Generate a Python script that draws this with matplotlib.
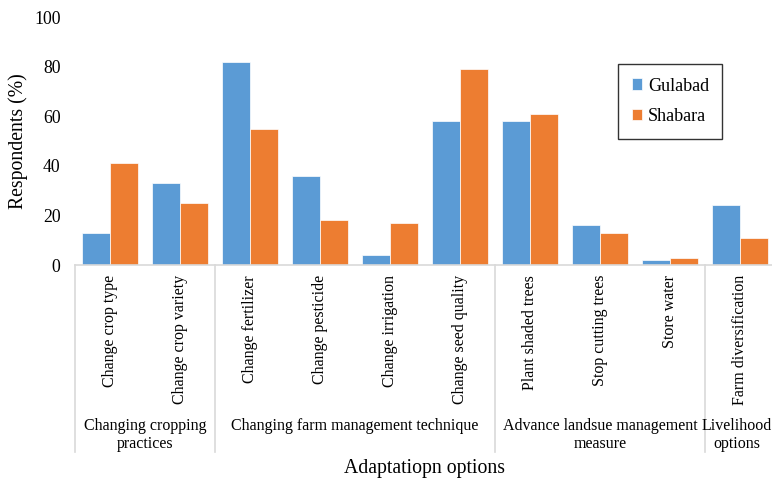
import matplotlib
matplotlib.use("Agg")
import matplotlib.pyplot as plt
from matplotlib.transforms import blended_transform_factory
import numpy as np

categories = ["Change crop type", "Change crop variety", "Change fertilizer",
              "Change pesticide", "Change irrigation", "Change seed quality",
              "Plant shaded trees", "Stop cutting trees", "Store water",
              "Farm diversification"]
gulabad = [13, 33, 82, 36, 4, 58, 58, 16, 2, 24]
shabara = [41, 25, 55, 18, 17, 79, 61, 13, 3, 11]
groups = ["Changing cropping\npractices", "Changing farm management technique",
          "Advance landsue management\nmeasure", "Livelihood\noptions"]
group_sizes = [2, 4, 3, 1]
yticks = [0, 20, 40, 60, 80, 100]

plt.rcParams['font.family'] = ['Liberation Serif', 'DejaVu Serif']

W, H = 772, 478
fig = plt.figure(figsize=(W / 100, H / 100), dpi=100)
ax = fig.add_axes([75 / W, 1 - 265 / H, 700 / W, 248 / H])

x = np.arange(len(categories)) + 0.5
bw = 0.395
blue = "#5B9BD5"
orange = "#ED7D31"
ax.bar(x - bw / 2, gulabad, bw, color=blue, edgecolor="white", linewidth=0.5, label="Gulabad")
ax.bar(x + bw / 2, shabara, bw, color=orange, edgecolor="white", linewidth=0.5, label="Shabara")

ax.set_xlim(0, len(categories))
ax.set_ylim(0, 100)
ax.set_yticks(yticks)
ax.set_yticklabels([str(t) for t in yticks], fontsize=12.8)
ax.tick_params(axis='y', length=0, pad=10.5)
ax.set_xticks([])
for s in ['top', 'right', 'left']:
    ax.spines[s].set_visible(False)
ax.spines['bottom'].set_color('#d9d9d9')
ax.spines['bottom'].set_linewidth(1.2)

W_, H_ = W, H
def fy(py):
    return 1 - py / H

fig.text(18 / W, fy(141), "Respondents (%)", rotation=90, ha='center', va='center', fontsize=14.2)

tr = blended_transform_factory(ax.transData, fig.transFigure)

for xi, lab in zip(x, categories):
    ax.text(xi, fy(275), lab, transform=tr, rotation=90, ha='center', va='top', fontsize=11.5)

# separators
bounds = [0] + list(np.cumsum(group_sizes))
for b in bounds:
    ax.plot([b, b], [fy(265), fy(452)], transform=tr, color='#d9d9d9', lw=1.2, clip_on=False)

for i, g in enumerate(groups):
    cx = (bounds[i] + bounds[i + 1]) / 2
    if i == len(groups) - 1:
        cx -= 0.04
    for j, line in enumerate(g.split("\n")):
        ax.text(cx, fy(430 + 17.5 * j), line, transform=tr, ha='center', va='baseline', fontsize=11.5)

fig.text(425 / W, fy(468), "Adaptatiopn options", ha='center', va='center', fontsize=14.2)

leg = ax.legend(loc='upper left', bbox_to_anchor=(618 / W, 1 - 64 / H),
                bbox_transform=fig.transFigure, fontsize=13, frameon=True,
                fancybox=False, edgecolor='black', borderaxespad=0,
                handlelength=0.6, handleheight=0.6, handletextpad=0.3,
                labelspacing=0.75, borderpad=0.75)
leg.get_frame().set_linewidth(1.0)

fig.savefig("out.png", dpi=100)
